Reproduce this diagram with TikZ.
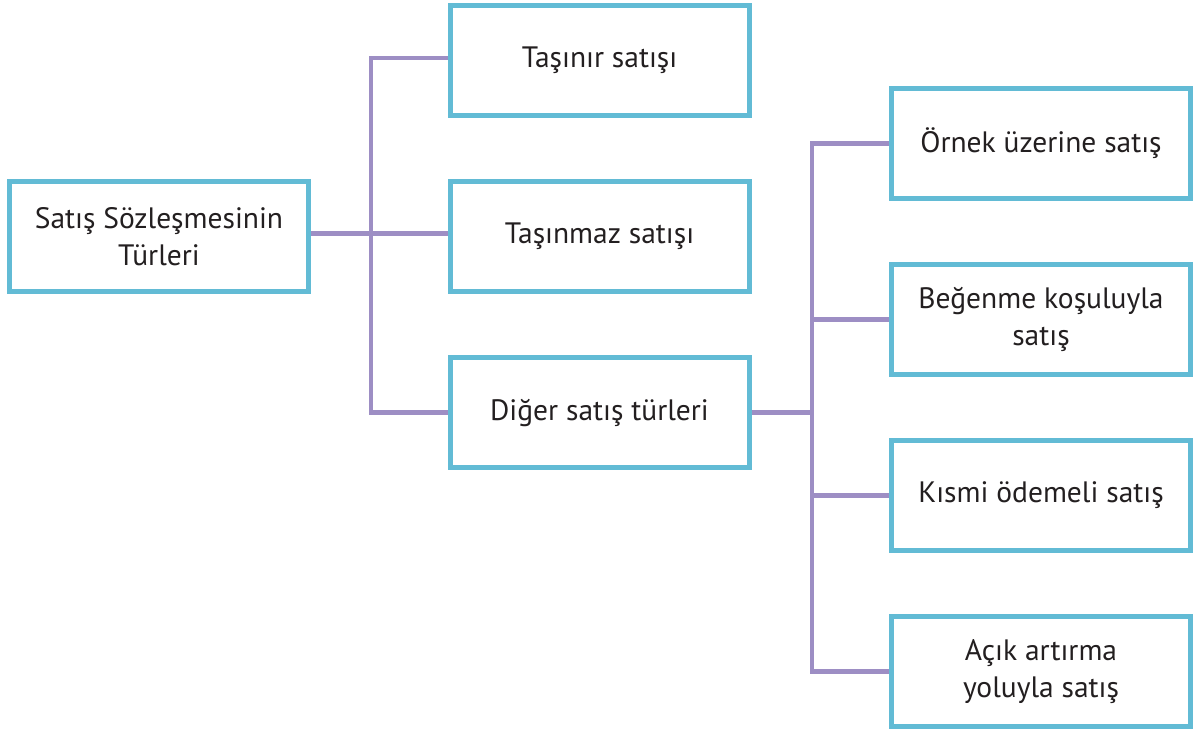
\documentclass[tikz,border=0pt]{standalone}
\usepackage{fontspec}
\setmainfont{PT Sans}
\definecolor{boxcol}{HTML}{62BBD5}
\definecolor{linecol}{HTML}{9D8EC4}
\definecolor{txtcol}{HTML}{231F20}
\begin{document}
\begin{tikzpicture}[x=1pt,y=-1pt,
  tbox/.style={draw=boxcol, line width=5pt, fill=white, rectangle,
    minimum width=299pt, minimum height=110pt, inner sep=0pt,
    align=center, text=txtcol, font=\fontsize{29.5}{37}\selectfont},
  conn/.style={draw=linecol, line width=4.5pt}]
\useasboundingbox (0,0) rectangle (1198,729);
\coordinate (j1) at (371,0);
\coordinate (j2) at (812,0);
\node[tbox] (root) at (159,236.5) {Satış Sözleşmesinin\\Türleri};
\node[tbox] (a) at (599.5,60.5) {Taşınır satışı};
\node[tbox] (b) at (599.5,236.5) {Taşınmaz satışı};
\node[tbox] (c) at (599.5,412.5) {Diğer satış türleri};
\node[tbox] (d) at (1041,143.5) {Örnek üzerine satış};
\node[tbox] (e) at (1041,319.5) {Beğenme koşuluyla\\satış};
\node[tbox] (f) at (1041,495.5) {Kısmi ödemeli satış};
\node[tbox] (g) at (1041,671.5) {Açık artırma\\yoluyla satış};
\coordinate (rw) at ([yshift=3pt]root.east);
\coordinate (bw) at ([yshift=3pt]b.west);
\coordinate (aw) at ([yshift=2.5pt]a.west);
\draw[conn] (rw) -- (bw);
\draw[conn] (aw) -- (j1 |- aw) -- (j1 |- c.west) -- (c.west);
\draw[conn] (c.east) -- (j2 |- c.east);
\draw[conn] (d.west) -- (j2 |- d.west) -- (j2 |- g.west) -- (g.west);
\draw[conn] (e.west) -- (j2 |- e.west);
\draw[conn] (f.west) -- (j2 |- f.west);
\end{tikzpicture}
\end{document}
